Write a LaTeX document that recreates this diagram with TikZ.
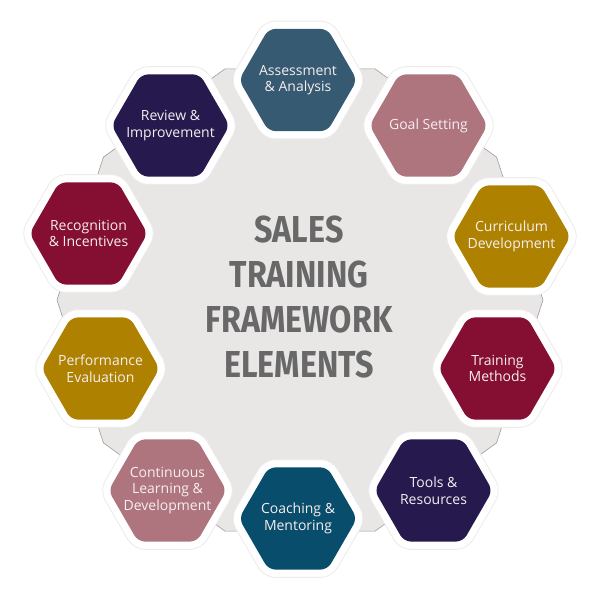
\documentclass[tikz,border=0pt]{standalone}
\usepackage{fontspec}
\setmainfont{Open Sans}
\newfontfamily\titlefont{Fira Sans}[FakeStretch=0.86]
\usetikzlibrary{shapes.geometric}
\definecolor{bgfill}{HTML}{E9E6E6}
\definecolor{bgline}{HTML}{9C9A9A}
\definecolor{tealA}{HTML}{355A72}
\definecolor{tealB}{HTML}{084D6B}
\definecolor{mauve}{HTML}{AF757F}
\definecolor{gold}{HTML}{AE8200}
\definecolor{crimson}{HTML}{850E33}
\definecolor{navy}{HTML}{26194E}
\definecolor{titlegray}{HTML}{686868}
\definecolor{labelwhite}{HTML}{F6EEF0}
\begin{document}
\begin{tikzpicture}[x=1pt,y=-1pt,
  hexouter/.style={regular polygon, regular polygon sides=6, minimum size=136pt,
    inner sep=0pt, fill=white, draw=black!8, line width=0.8pt, rounded corners=11pt},
  hexinner/.style={regular polygon, regular polygon sides=6, minimum size=118pt,
    inner sep=0pt, rounded corners=7pt},
  hexlabel/.style={text=labelwhite, align=center, inner sep=0pt,
    font=\fontsize{14}{16.5}\selectfont},
  titletext/.style={text=titlegray, align=center,
    font=\titlefont\bfseries\fontsize{37.5}{45}\selectfont}]
\useasboundingbox (0,0) rectangle (600,600);
% background decagon
\draw[fill=bgfill, draw=bgline, line width=0.6pt]
  (543,300) \foreach \a in {36,72,...,324} { -- ({300+243*cos(\a)},{300+243*sin(\a)}) } -- cycle;
% hexagons
\foreach \n/\x/\y/\c in {A/298/80/tealA, G/428.5/125.5/mauve, C/511.5/236.5/gold,
  T/497.5/368.5/crimson, To/433.5/490.5/navy, Co/298/518.5/tealB,
  CL/167.5/490.5/mauve, P/100.5/368.5/gold, R/88.5/233.5/crimson, Rv/170.5/125.5/navy} {
  \node[hexouter] (o\n) at (\x,\y) {};
  \node[hexinner, fill=\c] (h\n) at (\x,\y) {};
}
\node[hexlabel] (tA) at (hA) {Assessment\\\& Analysis};
\node[hexlabel] (tG) at (hG) {Goal Setting};
\node[hexlabel] (tC) at (hC) {Curriculum\\Development};
\node[hexlabel] (tT) at (hT) {Training\\Methods};
\node[hexlabel] (tTo) at (hTo) {Tools \&\\Resources};
\node[hexlabel] (tCo) at (hCo) {Coaching \&\\Mentoring};
\node[hexlabel] (tCL) at (hCL) {Continuous\\Learning \&\\Development};
\node[hexlabel] (tP) at (hP) {Performance\\Evaluation};
\node[hexlabel] (tR) at (hR) {Recognition\\\& Incentives};
\node[hexlabel] (tRv) at (hRv) {Review \&\\Improvement};
% title
\node[titletext] (title) at (299,297) {SALES\\TRAINING\\FRAMEWORK\\ELEMENTS};
\end{tikzpicture}
\end{document}
